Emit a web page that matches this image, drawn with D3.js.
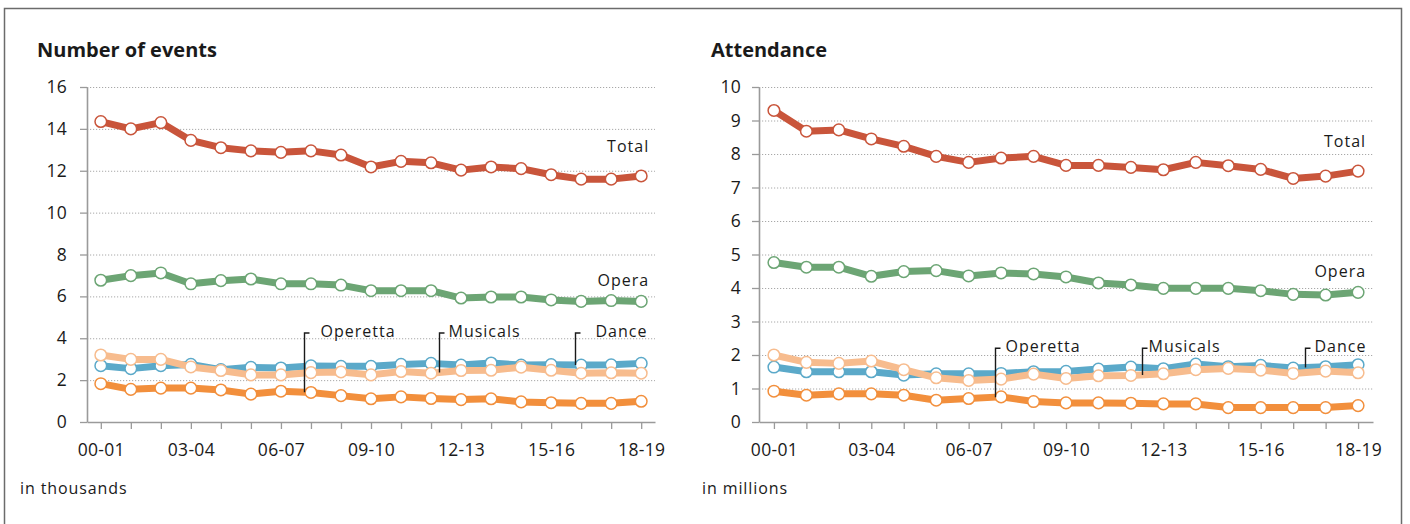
<!DOCTYPE html>
<html>
<head>
<meta charset="utf-8">
<script src="https://cdn.jsdelivr.net/npm/d3@7"></script>
<style>
  body { margin: 0; background: #fff; }
  text { font-family: "Open Sans", sans-serif; fill: #1a1a1a; }
</style>
</head>
<body>
<svg width="1410" height="524"></svg>
<script>
const seasons = ['00-01','01-02','02-03','03-04','04-05','05-06','06-07','07-08','08-09','09-10',
                 '10-11','11-12','12-13','13-14','14-15','15-16','16-17','17-18','18-19'];

// number of events, in thousands
const eventsTotal    = [14.35, 14.0, 14.3, 13.45, 13.1, 12.95, 12.88, 12.95, 12.75, 12.18, 12.45, 12.38, 12.03, 12.18, 12.1, 11.81, 11.6, 11.6, 11.75];
const eventsOpera    = [6.77, 6.99, 7.12, 6.6, 6.75, 6.83, 6.6, 6.6, 6.54, 6.27, 6.27, 6.27, 5.92, 5.97, 5.97, 5.83, 5.76, 5.8, 5.76];
const eventsDance    = [2.69, 2.55, 2.69, 2.75, 2.5, 2.61, 2.58, 2.68, 2.66, 2.66, 2.75, 2.8, 2.72, 2.82, 2.72, 2.74, 2.72, 2.73, 2.8];
const eventsMusicals = [3.2, 2.99, 2.99, 2.63, 2.46, 2.25, 2.25, 2.36, 2.39, 2.25, 2.41, 2.33, 2.46, 2.47, 2.62, 2.47, 2.33, 2.35, 2.33];
const eventsOperetta = [1.83, 1.56, 1.62, 1.62, 1.53, 1.33, 1.47, 1.41, 1.26, 1.11, 1.2, 1.12, 1.07, 1.11, 0.96, 0.92, 0.89, 0.89, 0.99];

// attendance, in millions
const attTotal    = [9.3, 8.68, 8.72, 8.45, 8.23, 7.93, 7.75, 7.88, 7.93, 7.66, 7.66, 7.6, 7.53, 7.75, 7.65, 7.54, 7.27, 7.34, 7.49];
const attOpera    = [4.76, 4.62, 4.62, 4.35, 4.49, 4.52, 4.36, 4.45, 4.42, 4.33, 4.15, 4.09, 3.99, 3.99, 3.99, 3.92, 3.81, 3.79, 3.87];
const attDance    = [1.64, 1.5, 1.5, 1.5, 1.4, 1.44, 1.44, 1.45, 1.5, 1.51, 1.58, 1.64, 1.59, 1.73, 1.65, 1.69, 1.61, 1.65, 1.71];
const attMusicals = [2.0, 1.78, 1.75, 1.82, 1.56, 1.32, 1.24, 1.28, 1.43, 1.3, 1.38, 1.39, 1.44, 1.56, 1.6, 1.55, 1.45, 1.52, 1.47];
const attOperetta = [0.92, 0.8, 0.84, 0.84, 0.8, 0.65, 0.7, 0.75, 0.61, 0.57, 0.57, 0.56, 0.54, 0.54, 0.43, 0.43, 0.43, 0.43, 0.49];

const colors = {
  Total: '#c9553b', Opera: '#6ca574', Dance: '#5ba9c9', Musicals: '#f7bc8e', Operetta: '#f28f3c'
};

const svg = d3.select('svg');

// frame
svg.append('rect')
  .attr('x', 4.5).attr('y', 8.5)
  .attr('width', 1397).attr('height', 540)
  .attr('fill', 'none').attr('stroke', '#6b6b6b').attr('stroke-width', 1.5);

draw({
  title: 'Number of events', unit: 'in thousands',
  left: 87, right: 655, titleX: 37, unitX: 20,
  max: 16, step: 2, labelPad: 13, leaderTop: 4.25,
  series: { Dance: eventsDance, Musicals: eventsMusicals, Operetta: eventsOperetta, Opera: eventsOpera, Total: eventsTotal },
  leaders: [ { name: 'Operetta', at: 6.77, gap: 16 }, { name: 'Musicals', at: 11.25, gap: 9 }, { name: 'Dance', at: 15.78, gap: 20 } ]
});

draw({
  title: 'Attendance', unit: 'in millions',
  left: 759, right: 1373, titleX: 711, unitX: 702,
  max: 10, step: 1, labelPad: 11, leaderTop: 2.2,
  series: { Dance: attDance, Musicals: attMusicals, Operetta: attOperetta, Opera: attOpera, Total: attTotal },
  leaders: [ { name: 'Operetta', at: 6.82, gap: 10 }, { name: 'Musicals', at: 11.33, gap: 6 }, { name: 'Dance', at: 16.35, gap: 9 } ]
});

function draw(p){
  const top = 87, bottom = 422;
  const x = d3.scalePoint().domain(seasons).range([p.left, p.right]).padding(0.46);
  const y = d3.scaleLinear().domain([0, p.max]).range([bottom, top]);
  const xi = d3.scaleLinear().domain([0, seasons.length - 1]).range([x(seasons[0]), x(seasons[seasons.length - 1])]);
  const g = svg.append('g');

  // title + unit note
  g.append('text').attr('x', p.titleX).attr('y', 57)
    .attr('font-size', 20).attr('font-weight', 'bold').text(p.title);
  g.append('text').attr('x', p.unitX).attr('y', 494)
    .attr('font-size', 16).attr('letter-spacing', 0.9).text(p.unit);

  const yTicks = d3.range(0, p.max + p.step / 2, p.step);

  // dotted grid
  g.append('g').selectAll('line')
    .data(yTicks.filter(v => v > 0))
    .enter().append('line')
    .attr('x1', p.left).attr('x2', p.right)
    .attr('y1', d => y(d) + 0.5).attr('y2', d => y(d) + 0.5)
    .attr('stroke', '#a8a8a8').attr('stroke-width', 1).attr('stroke-dasharray', '1.2,1.8');

  // axes
  const yAxis = g.append('g').attr('transform', `translate(${p.left},0)`)
    .call(d3.axisLeft(y).tickValues(yTicks).tickSize(7).tickSizeOuter(0).tickPadding(p.labelPad));
  const xAxis = g.append('g').attr('transform', `translate(0,${bottom})`)
    .call(d3.axisBottom(x).tickSize(7).tickSizeOuter(0).tickPadding(15)
      .tickFormat((d, i) => i % 3 == 0 ? d : ''));
  [yAxis, xAxis].forEach(a => {
    a.select('.domain').attr('stroke', '#9a9a9a').attr('stroke-width', 1.6);
    a.selectAll('.tick line').attr('stroke', '#9a9a9a').attr('stroke-width', 1.3);
    a.selectAll('.tick text').attr('font-size', 17.5).attr('fill', '#1a1a1a')
      .attr('font-family', '"Open Sans", sans-serif').attr('letter-spacing', 0.3);
  });

  const line = d3.line()
    .x((d, i) => x(seasons[i]))
    .y(d => y(d));

  // series: line then white markers
  Object.keys(p.series).forEach(name => {
    const vals = p.series[name];
    const s = g.append('g');
    s.append('path')
      .attr('d', line(vals))
      .attr('fill', 'none')
      .attr('stroke', colors[name])
      .attr('stroke-width', 7)
      .attr('stroke-linejoin', 'round');
    s.selectAll('circle')
      .data(vals)
      .enter().append('circle')
      .attr('cx', (d, i) => x(seasons[i]))
      .attr('cy', d => y(d))
      .attr('r', 5.8)
      .attr('fill', '#fff')
      .attr('stroke', colors[name])
      .attr('stroke-width', 1.5);
  });

  // Total / Opera labels at line end
  const last = seasons.length - 1;
  [['Total', 24], ['Opera', 15]].forEach(([name, dy]) => {
    g.append('text')
      .attr('x', x(seasons[last]) + 8)
      .attr('y', y(p.series[name][last]) - dy)
      .attr('text-anchor', 'end')
      .attr('font-size', 16).attr('letter-spacing', 1)
      .text(name);
  });

  // leader labels
  p.leaders.forEach(l => {
    const vals = p.series[l.name];
    const i0 = Math.floor(l.at), f = l.at - i0;
    const v = vals[i0] + (vals[i0 + 1] - vals[i0]) * f;
    const lx = Math.round(xi(l.at)) + 0.5;
    const ly = y(p.leaderTop);
    g.append('path')
      .attr('d', `M${lx + 5},${ly}H${lx}V${y(v)}`)
      .attr('fill', 'none').attr('stroke', '#1a1a1a').attr('stroke-width', 1.4);
    g.append('text')
      .attr('x', lx + l.gap).attr('y', ly + 4)
      .attr('font-size', 16).attr('letter-spacing', 1)
      .text(l.name);
  });
}
</script>
</body>
</html>
